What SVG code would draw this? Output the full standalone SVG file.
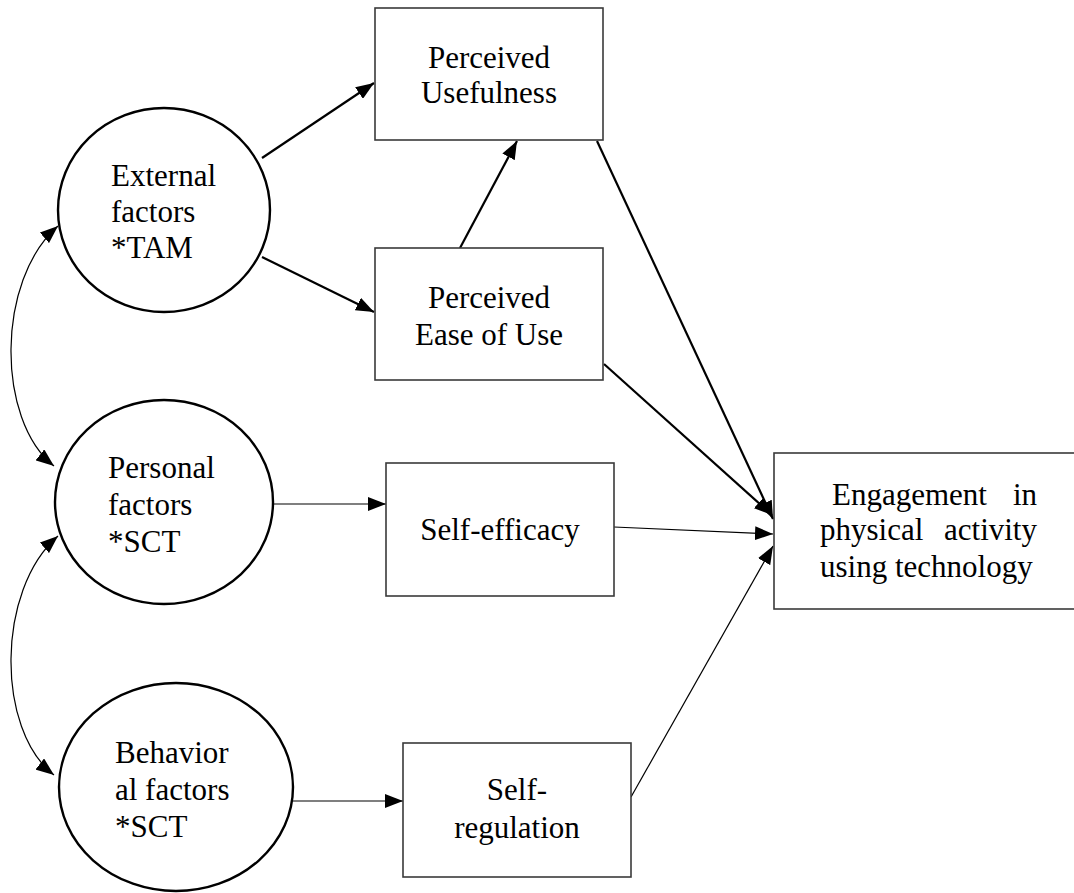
<svg xmlns="http://www.w3.org/2000/svg" width="1074" height="893" viewBox="0 0 1074 893">
  <defs>
    <marker id="head" viewBox="0 0 18 14" refX="18" refY="7" markerWidth="18" markerHeight="14" markerUnits="userSpaceOnUse" orient="auto-start-reverse">
      <path d="M0,0 L18,7 L0,14 Z" fill="#000"/>
    </marker>
  </defs>
  <style>
    .lbl { font-size: 31px; fill: #000; }
    .mid { text-anchor: middle; }
    .end { text-anchor: end; }
    .factor { fill: #fff; stroke: #000; stroke-width: 2.4; }
    .box { fill: #fff; stroke: #3a3a3a; stroke-width: 1.6; }
    .thick { fill: none; stroke: #000; stroke-width: 2.2; marker-end: url(#head); }
    .thin { fill: none; stroke: #000; stroke-width: 1.2; marker-end: url(#head); }
    .both { fill: none; stroke: #000; stroke-width: 1.2; marker-start: url(#head); marker-end: url(#head); }
  </style>

  <rect width="1074" height="893" fill="#fff"/>

  <!-- connectors -->
  <g id="connectors">
    <path class="thick" d="M262,158 L374,83"/>
    <path class="thick" d="M262,257 L374,312"/>
    <path class="thick" d="M460,248 L517,141"/>
    <path class="thick" d="M597,141 L773,519"/>
    <path class="thick" d="M604,364 L772,515"/>
    <path class="thin" d="M614,527 L773,534"/>
    <path class="thin" d="M631,797 L773,546"/>
    <path class="thin" d="M273,504 L386,504"/>
    <path class="thin" d="M293,801 L403,801"/>
    <path class="both" d="M58,226 C-4,280 -4,420 54,466"/>
    <path class="both" d="M58,536 C-4,590 -4,730 54,775"/>
  </g>

  <g font-family="'Liberation Serif', 'Times New Roman', serif">
    <!-- latent factors -->
    <g id="external-factors">
      <ellipse class="factor" cx="164" cy="210" rx="106" ry="102"/>
      <text class="lbl" x="111" y="186">External</text>
      <text class="lbl" x="111" y="222">factors</text>
      <text class="lbl" x="111" y="258">*TAM</text>
    </g>
    <g id="personal-factors">
      <ellipse class="factor" cx="164" cy="502" rx="109" ry="102"/>
      <text class="lbl" x="108" y="478">Personal</text>
      <text class="lbl" x="108" y="515">factors</text>
      <text class="lbl" x="108" y="552">*SCT</text>
    </g>
    <g id="behavioral-factors">
      <ellipse class="factor" cx="176" cy="787" rx="117" ry="104"/>
      <text class="lbl" x="115" y="763">Behavior</text>
      <text class="lbl" x="115" y="800">al factors</text>
      <text class="lbl" x="115" y="837">*SCT</text>
    </g>

    <!-- mediators -->
    <g id="perceived-usefulness">
      <rect class="box" x="375" y="8" width="228" height="132"/>
      <text class="lbl mid" x="489" y="68">Perceived</text>
      <text class="lbl mid" x="489" y="103">Usefulness</text>
    </g>
    <g id="perceived-ease-of-use">
      <rect class="box" x="375" y="248" width="228" height="132"/>
      <text class="lbl mid" x="489" y="308">Perceived</text>
      <text class="lbl mid" x="489" y="345">Ease of Use</text>
    </g>
    <g id="self-efficacy">
      <rect class="box" x="386" y="463" width="228" height="133"/>
      <text class="lbl mid" x="500" y="540">Self-efficacy</text>
    </g>
    <g id="self-regulation">
      <rect class="box" x="403" y="743" width="228" height="134"/>
      <text class="lbl mid" x="517" y="800">Self-</text>
      <text class="lbl mid" x="517" y="838">regulation</text>
    </g>

    <!-- outcome -->
    <g id="engagement">
      <rect class="box" x="774" y="453" width="304" height="156"/>
      <text class="lbl" x="832" y="505">Engagement</text>
      <text class="lbl end" x="1037" y="505">in</text>
      <text class="lbl" x="820" y="540">physical</text>
      <text class="lbl end" x="1037" y="540">activity</text>
      <text class="lbl" x="820" y="577">using technology</text>
    </g>
  </g>
</svg>
